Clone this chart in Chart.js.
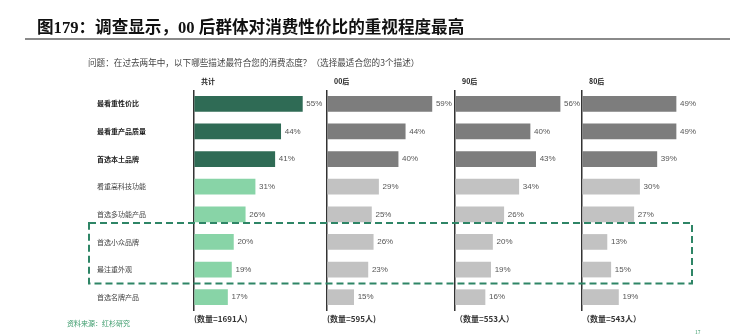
<!DOCTYPE html>
<html>
<head>
<meta charset="utf-8">
<script src="https://cdn.jsdelivr.net/npm/chart.js"></script>
<style>
  body { margin: 0; background: #fff; }
  #wrap { position: relative; width: 730px; height: 336px; overflow: hidden; font-family: "Noto Sans CJK SC", sans-serif; }
  #chart { position: absolute; left: 0; top: 0; }
  .title { position: absolute; left: 37px; top: 19px; font: bold 16.6px/18px "Liberation Serif", "Noto Sans CJK SC", serif; color: #111; white-space: nowrap; }
  .rule { position: absolute; left: 25px; right: 0; top: 38px; height: 2px; background: #8a8a8a; }
  .question { position: absolute; left: 88px; top: 56px; font-size: 8.6px; line-height: 12px; color: #444; white-space: nowrap; }
  .source { position: absolute; left: 67px; top: 318px; font-size: 7px; line-height: 10px; color: #3a9a6a; }
  .page { position: absolute; left: 695px; top: 328px; font-size: 5px; line-height: 7px; color: #3a9a6a; }
</style>
</head>
<body>
<div id="wrap">
  <canvas id="chart" width="730" height="336"></canvas>
  <div class="title">图179：调查显示，00 后群体对消费性价比的重视程度最高</div>
  <div class="rule"></div>
  <div class="question">问题：在过去两年中，以下哪些描述最符合您的消费态度？（选择最适合您的3个描述）</div>
  <div class="source">资料来源：红杉研究</div>
  <div class="page">17</div>
</div>
<script>
// survey answers, % of respondents
const categories = ['最看重性价比', '最看重产品质量', '首选本土品牌', '看重高科技功能', '首选多功能产品', '首选小众品牌', '最注重外观', '首选名牌产品'];
const groups = ['共计', '00后', '90后', '80后'];
const sampleSizes = [1691, 595, 553, 543];
const totalValues = [55, 44, 41, 31, 26, 20, 19, 17];
const gen00Values = [59, 44, 40, 29, 25, 26, 23, 15];
const gen90Values = [56, 40, 43, 34, 26, 20, 19, 16];
const gen80Values = [49, 49, 39, 30, 27, 13, 15, 19];
const highlightRows = ['首选小众品牌', '最注重外观'];

const seriesValues = [totalValues, gen00Values, gen90Values, gen80Values];
const topCount = 3;

// panel look
const panelWeights = [133, 128, 127, 128];
const panelMax = [67.5, 72, 67.7, 66.7];
const darkColors = ['#2f6b55', '#7d7d7d', '#7d7d7d', '#7d7d7d'];
const lightColors = ['#88d4a7', '#c2c2c2', '#c2c2c2', '#c2c2c2'];
const cjk = '"Noto Sans CJK SC", sans-serif';

const datasets = seriesValues.map((vals, i) => ({
    label: groups[i],
    data: vals,
    xAxisID: 'x' + i,
    yAxisID: 'y',
    grouped: false,
    barThickness: 15,
    backgroundColor: vals.map((v, j) => j < topCount ? darkColors[i] : lightColors[i])
}));

const scales = {
    y: {
        type: 'category',
        grid: { display: false },
        border: { display: false },
        ticks: {
            crossAlign: 'far',
            color: c => c.index < topCount ? '#222' : '#444',
            font: c => ({ family: cjk, size: 7, weight: c.index < topCount ? 'bold' : 'normal' })
        },
        afterFit: s => { s.width = 97; }
    }
};

groups.forEach((g, i) => {
    const n = sampleSizes[i];
    scales['x' + i] = {
        type: 'linear',
        position: 'bottom',
        stack: 'panels',
        stackWeight: panelWeights[i],
        min: 0,
        max: panelMax[i],
        ticks: { display: false },
        border: { display: false },
        grid: {
            drawTicks: false,
            lineWidth: 1.5,
            color: c => (c.tick && c.tick.value === 0) ? '#333' : 'rgba(0,0,0,0)'
        },
        title: {
            display: true,
            text: i < 2 ? '(数量=' + n + '人)' : '（数量=' + n + '人）',
            align: 'start',
            color: '#333',
            font: { family: cjk, size: 8, weight: 'bold', lineHeight: 1.2 },
            padding: { top: 2.8, bottom: 0 }
        }
    };
});

const annotate = {
    id: 'annotate',
    afterDatasetsDraw(chart) {
        const ctx = chart.ctx;
        const area = chart.chartArea;
        ctx.save();

        // value labels
        ctx.font = '8px "Liberation Sans", Arial, sans-serif';
        ctx.fillStyle = '#555';
        ctx.textBaseline = 'middle';
        ctx.textAlign = 'left';
        chart.data.datasets.forEach((ds, i) => {
            chart.getDatasetMeta(i).data.forEach((bar, j) => {
                ctx.fillText(ds.data[j] + '%', bar.x + 4, bar.y);
            });
        });

        // panel headers
        ctx.font = 'bold 7px ' + cjk;
        ctx.fillStyle = '#222';
        groups.forEach((g, i) => {
            ctx.fillText(g, chart.scales['x' + i].left + 7, area.top - 9);
        });

        // dashed frame around highlighted rows
        const y = chart.scales.y;
        const a = categories.indexOf(highlightRows[0]);
        const b = categories.indexOf(highlightRows[highlightRows.length - 1]);
        const step = y.getPixelForValue(1) - y.getPixelForValue(0);
        const top = y.getPixelForValue(a) - step * 0.69;
        const bottom = y.getPixelForValue(b) + step * 0.5;
        const left = area.left - 105;
        const right = area.right - 18;
        ctx.strokeStyle = '#2e8566';
        ctx.lineWidth = 2;
        ctx.setLineDash([7, 4]);
        ctx.strokeRect(left, top, right - left, bottom - top);
        ctx.restore();
    }
};

new Chart(document.getElementById('chart'), {
    type: 'bar',
    data: { labels: categories, datasets: datasets },
    options: {
        indexAxis: 'y',
        responsive: false,
        animation: false,
        layout: { padding: { left: 97, right: 20, top: 90, bottom: 12.6 } },
        plugins: {
            legend: { display: false },
            tooltip: { enabled: false }
        },
        scales: scales
    },
    plugins: [annotate]
});
</script>
</body>
</html>
